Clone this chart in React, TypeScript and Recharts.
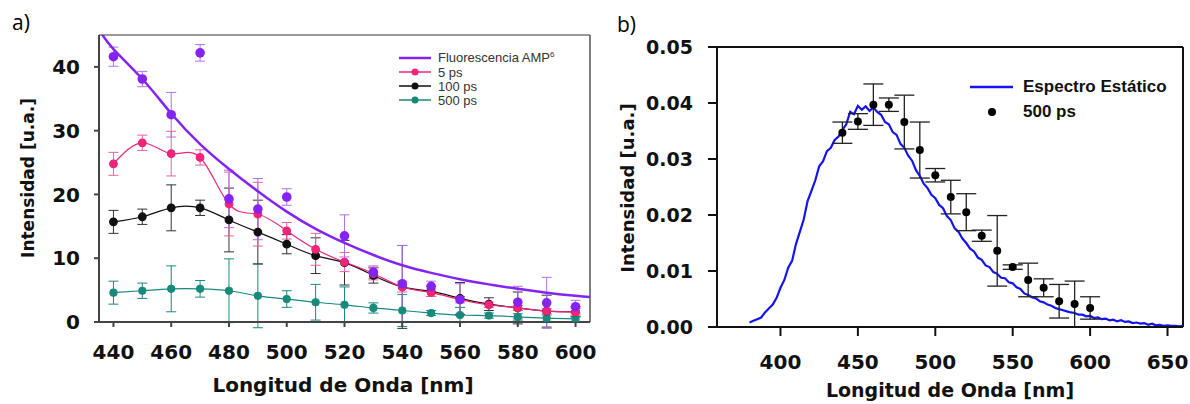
import { ComposedChart, Line, XAxis, YAxis, ErrorBar, ReferenceLine } from "recharts";

// ---- panel a) ----
const waveA = [440, 450, 460, 470, 480, 490, 500, 510, 520, 530, 540, 550, 560, 570, 580, 590, 600];
const ps5 = [24.8, 28.1, 26.4, 25.8, 18.5, 16.9, 14.3, 11.4, 9.4, 7.6, 5.5, 4.6, 3.5, 2.7, 2.2, 1.7, 1.6];
const ps5Err = [1.8, 1.2, 3.5, 1.2, 5.0, 5.0, 1.3, 2.5, 1.5, 1.0, 0.8, 0.6, 0.5, 0.4, 0.4, 0.4, 0.5];
const ps100 = [15.7, 16.5, 17.9, 17.9, 16.0, 14.1, 12.2, 10.4, 9.3, 7.3, 5.5, 4.8, 3.7, 2.8, 2.2, 1.7, 1.6];
const ps100Err = [1.8, 1.2, 3.6, 1.2, 5.0, 5.0, 1.5, 2.8, 3.5, 1.2, 6.5, 0.8, 2.5, 1.0, 2.5, 2.5, 0.8];
const ps500 = [4.6, 4.9, 5.2, 5.2, 4.9, 4.1, 3.6, 3.1, 2.7, 2.2, 1.8, 1.4, 1.1, 1.0, 0.8, 0.6, 0.5];
const ps500Err = [1.8, 1.2, 3.6, 1.3, 5.0, 5.0, 1.3, 2.8, 2.8, 0.8, 2.5, 0.4, 1.2, 0.4, 0.5, 0.5, 0.4];

const ampWave = [440, 450, 460, 470, 480, 490, 500, 520, 530, 540, 550, 560, 580, 590, 600];
const ampPts = [41.6, 38.1, 32.5, 42.2, 19.3, 17.7, 19.6, 13.5, 7.8, 6.0, 5.6, 3.5, 3.1, 3.0, 2.4];
const ampErr = [1.5, 1.2, 3.5, 1.3, 4.5, 4.8, 1.3, 3.3, 1.0, 6.0, 0.8, 2.5, 2.5, 4.0, 1.0];

const ampCurveX = [435, 440, 450, 460, 470, 480, 490, 500, 510, 520, 530, 540, 550, 560, 570, 580, 590, 600, 605];
const ampCurveY = [45.8, 42.8, 38.1, 32.7, 27.9, 24.0, 20.5, 17.3, 14.6, 12.4, 10.5, 8.9, 7.7, 6.7, 5.9, 5.2, 4.6, 4.1, 3.9];

const ticksXA = [440, 460, 480, 500, 520, 540, 560, 580, 600];
const ticksYA = [0, 10, 20, 30, 40];

// ---- panel b) ----
const specX = [
  380, 382.5, 385, 387.5, 390, 392.5, 395, 397.5, 400, 402.5, 405, 407.5, 410, 412.5, 415, 417.5,
  420, 422.5, 425, 427.5, 430, 432.5, 435, 437.5, 440, 442.5, 445, 447.5, 450, 452.5, 455, 457.5,
  460, 462.5, 465, 467.5, 470, 472.5, 475, 477.5, 480, 482.5, 485, 487.5, 490, 492.5, 495, 497.5,
  500, 502.5, 505, 507.5, 510, 512.5, 515, 517.5, 520, 522.5, 525, 527.5, 530, 532.5, 535, 537.5,
  540, 542.5, 545, 547.5, 550, 552.5, 555, 557.5, 560, 562.5, 565, 567.5, 570, 572.5, 575, 577.5,
  580, 582.5, 585, 587.5, 590, 592.5, 595, 597.5, 600, 602.5, 605, 607.5, 610, 612.5, 615, 617.5,
  620, 622.5, 625, 627.5, 630, 632.5, 635, 637.5, 640, 642.5, 645, 647.5, 650, 652.5, 655, 657.5, 660,
];
const specY = [
  0.0008, 0.0011, 0.0014, 0.0017, 0.0026, 0.0033, 0.004, 0.0052, 0.007, 0.0084, 0.0106, 0.0118, 0.0148, 0.017, 0.0192, 0.0225,
  0.0243, 0.0262, 0.0287, 0.0296, 0.0314, 0.032, 0.0334, 0.034, 0.0352, 0.0362, 0.0384, 0.038, 0.0395, 0.0388, 0.0394, 0.0386,
  0.0392, 0.0384, 0.0379, 0.0366, 0.0362, 0.0348, 0.0343, 0.0327, 0.032, 0.0306, 0.0297, 0.028, 0.027, 0.0256, 0.0248, 0.0236,
  0.023, 0.0218, 0.0212, 0.0198, 0.0191, 0.0176, 0.017, 0.0158, 0.015, 0.014, 0.0135, 0.0124, 0.012, 0.011, 0.0107, 0.0098,
  0.0095, 0.0088, 0.0087, 0.008, 0.0078, 0.0071, 0.0068, 0.006, 0.0057, 0.0053, 0.0051, 0.0046, 0.0044, 0.004, 0.0038, 0.0034,
  0.0032, 0.003, 0.0028, 0.0026, 0.0025, 0.0022, 0.0022, 0.0019, 0.002, 0.0016, 0.0017, 0.0014, 0.0015, 0.0012, 0.0013, 0.001,
  0.0012, 0.0009, 0.001, 0.0007, 0.0008, 0.0006, 0.0007, 0.0004, 0.0006, 0.0003, 0.0004, 0.0002, 0.0003, 0.0002, 0.0002, 0.0001, 0.0002,
];

const waveB = [440, 450, 460, 470, 480, 490, 500, 510, 520, 530, 540, 550, 560, 570, 580, 590, 600];
const ps500B = [0.0347, 0.0367, 0.0397, 0.0397, 0.0366, 0.0316, 0.0271, 0.0232, 0.0205, 0.0163, 0.0136, 0.0107, 0.0084, 0.007, 0.0046, 0.0041, 0.0034];
const ps500BErr = [0.0019, 0.0014, 0.0037, 0.0012, 0.0048, 0.005, 0.0012, 0.003, 0.0033, 0.001, 0.0063, 0.0004, 0.003, 0.0016, 0.003, 0.0041, 0.002];

const ticksXB = [400, 450, 500, 550, 600, 650];
const ticksYB = [0, 0.01, 0.02, 0.03, 0.04, 0.05];

const rows = (xs: number[], ys: number[], es?: number[]) =>
  xs.map((x, i) => ({ x, y: ys[i], e: es ? es[i] : 0 }));

const purple = "#8424f2";
const pink = "#f0247a";
const black = "#111111";
const teal = "#178a7c";
const blue = "#1414f0";
const axisFont = "'DejaVu Sans', sans-serif";

function PanelA() {
  const tick = { fill: "#111", fontSize: 20, fontWeight: 700, fontFamily: axisFont };
  return (
    <ComposedChart width={600} height={404} margin={{ top: 35, right: 10, bottom: 42, left: 0 }}>
      <XAxis
        dataKey="x"
        type="number"
        domain={[435, 605]}
        ticks={ticksXA}
        allowDataOverflow
        height={40}
        tick={tick}
        tickSize={5}
        tickMargin={18}
        stroke="#444"
        strokeWidth={2}
      />
      <YAxis
        type="number"
        domain={[0, 45]}
        ticks={ticksYA}
        allowDataOverflow
        width={99}
        tick={tick}
        tickSize={5}
        tickMargin={14}
        stroke="#444"
        strokeWidth={2}
      />
      <ReferenceLine y={45} stroke="#777" strokeWidth={1.5} ifOverflow="visible" />
      <ReferenceLine x={605} stroke="#555" strokeWidth={1.5} ifOverflow="visible" />
      <Line data={rows(waveA, ps500, ps500Err)} dataKey="y" type="natural" stroke={teal} strokeWidth={1.2}
        dot={{ r: 3.5, fill: teal, stroke: teal }} isAnimationActive={false}>
        <ErrorBar dataKey="e" width={5} stroke={teal} strokeWidth={1} />
      </Line>
      <Line data={rows(waveA, ps100, ps100Err)} dataKey="y" type="natural" stroke={black} strokeWidth={1.2}
        dot={{ r: 3.8, fill: black, stroke: black }} isAnimationActive={false}>
        <ErrorBar dataKey="e" width={5} stroke="#333" strokeWidth={1} />
      </Line>
      <Line data={rows(waveA, ps5, ps5Err)} dataKey="y" type="natural" stroke={pink} strokeWidth={1.2}
        dot={{ r: 3.8, fill: pink, stroke: pink }} isAnimationActive={false}>
        <ErrorBar dataKey="e" width={5} stroke="#f060a0" strokeWidth={1} />
      </Line>
      <Line data={rows(ampWave, ampPts, ampErr)} dataKey="y" stroke="none" strokeWidth={0}
        dot={{ r: 4.8, fill: purple, stroke: purple }} isAnimationActive={false}>
        <ErrorBar dataKey="e" width={5} stroke="#b070f0" strokeWidth={1} />
      </Line>
      <Line data={rows(ampCurveX, ampCurveY)} dataKey="y" type="natural" stroke={purple} strokeWidth={2.5}
        dot={false} isAnimationActive={false} />
    </ComposedChart>
  );
}

function PanelB() {
  const tick = { fill: "#111", fontSize: 19, fontWeight: 700, fontFamily: axisFont };
  return (
    <ComposedChart width={590} height={404} margin={{ top: 47, right: 7, bottom: 37, left: 0 }}>
      <XAxis
        dataKey="x"
        type="number"
        domain={[359, 660]}
        ticks={ticksXB}
        allowDataOverflow
        height={40}
        tick={{ ...tick, fontSize: 20 }}
        tickSize={9}
        tickMargin={19}
        stroke="#111"
        strokeWidth={2}
      />
      <YAxis
        type="number"
        domain={[0, 0.05]}
        ticks={ticksYB}
        allowDataOverflow
        width={117}
        tick={tick}
        tickSize={9}
        tickMargin={15}
        tickFormatter={(v: number) => v.toFixed(2)}
        stroke="#111"
        strokeWidth={2}
      />
      <ReferenceLine y={0.05} stroke="#111" strokeWidth={2} ifOverflow="visible" />
      <ReferenceLine x={660} stroke="#111" strokeWidth={2} ifOverflow="visible" />
      <Line data={rows(specX, specY)} dataKey="y" type="linear" stroke={blue} strokeWidth={2.2}
        dot={false} isAnimationActive={false} />
      <Line data={rows(waveB, ps500B, ps500BErr)} dataKey="y" stroke="none" strokeWidth={0}
        dot={{ r: 4, fill: "#000", stroke: "#000" }} isAnimationActive={false}>
        <ErrorBar dataKey="e" width={10} stroke="#222" strokeWidth={1.3} />
      </Line>
    </ComposedChart>
  );
}

const abs = (left: number, top: number): React.CSSProperties => ({ position: "absolute", left, top });

function LegendRow({ color, label, dot, top }: { color: string; label: React.ReactNode; dot: boolean; top: number }) {
  return (
    <div style={{ ...abs(398, top - 8), display: "flex", alignItems: "center", height: 16 }}>
      <svg width={34} height={16}>
        <line x1={1} y1={8} x2={33} y2={8} stroke={color} strokeWidth={dot ? 1.5 : 2.5} />
        {dot && <circle cx={17} cy={8} r={3.5} fill={color} />}
      </svg>
      <span style={{ marginLeft: 6, fontFamily: "'Liberation Sans', Arial, sans-serif", fontSize: 13, color: "#333" }}>
        {label}
      </span>
    </div>
  );
}

export default function App() {
  const lblA: React.CSSProperties = { fontFamily: axisFont, fontWeight: 700, color: "#111", whiteSpace: "nowrap" };
  return (
    <div style={{ position: "absolute", left: 0, top: 0, width: 1190, height: 404, background: "#fff", overflow: "hidden" }}>
      <div style={abs(0, 0)}>
        <PanelA />
      </div>
      <div style={abs(600, 0)}>
        <PanelB />
      </div>

      <div style={{ ...abs(12, 8), fontFamily: "'Open Sans', sans-serif", fontSize: 21 }}>a)</div>
      <div style={{ ...abs(617, 10), fontFamily: "'Open Sans', sans-serif", fontSize: 21 }}>b)</div>

      <LegendRow color={purple} dot={false} top={58} label={<>Fluorescencia AMP<sup style={{ fontSize: 8 }}>6</sup></>} />
      <LegendRow color={pink} dot top={72} label="5 ps" />
      <LegendRow color={black} dot top={86} label="100 ps" />
      <LegendRow color={teal} dot top={100} label="500 ps" />

      <div style={{ ...abs(343, 385), ...lblA, fontSize: 20, transform: "translate(-50%, -50%)" }}>
        Longitud de Onda [nm]
      </div>
      <div style={{ ...abs(28, 178), ...lblA, fontSize: 17, transform: "translate(-50%, -50%) rotate(-90deg)" }}>
        Intensidad [u.a.]
      </div>

      <div style={{ ...abs(950, 390), ...lblA, fontSize: 19, transform: "translate(-50%, -50%)" }}>
        Longitud de Onda [nm]
      </div>
      <div style={{ ...abs(627, 188), ...lblA, fontSize: 18, transform: "translate(-50%, -50%) rotate(-90deg)" }}>
        Intensidad [u.a.]
      </div>

      <div style={{ ...abs(970, 77), display: "flex", alignItems: "center" }}>
        <svg width={44} height={16}>
          <line x1={0} y1={8} x2={43} y2={8} stroke={blue} strokeWidth={2.5} />
        </svg>
        <span style={{ marginLeft: 9, fontFamily: "'Liberation Sans', Arial, sans-serif", fontWeight: 700, fontSize: 17, color: "#111" }}>
          Espectro Estático
        </span>
      </div>
      <div style={{ ...abs(970, 102), display: "flex", alignItems: "center" }}>
        <svg width={44} height={16}>
          <circle cx={22} cy={8} r={4} fill="#000" />
        </svg>
        <span style={{ marginLeft: 9, fontFamily: "'Liberation Sans', Arial, sans-serif", fontWeight: 700, fontSize: 17, color: "#111" }}>
          500 ps
        </span>
      </div>
    </div>
  );
}
